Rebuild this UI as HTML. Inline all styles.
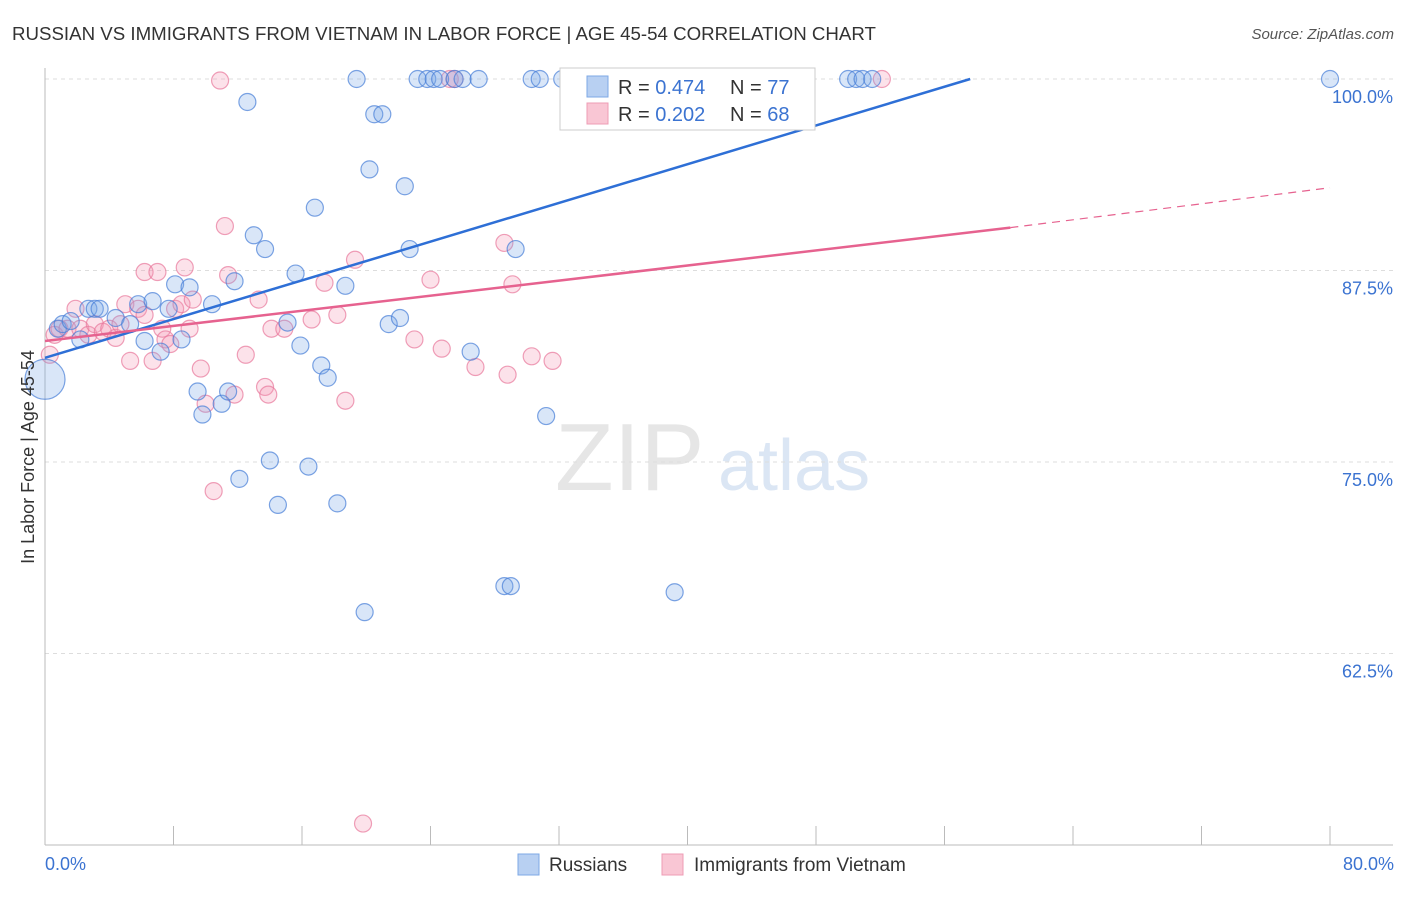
<!DOCTYPE html>
<html><head><meta charset="utf-8"><style>
body{margin:0;background:#fff;font-family:"Liberation Sans",sans-serif;}
svg text{font-family:"Liberation Sans",sans-serif;}
</style></head><body>
<svg id="chart" width="1406" height="892" xmlns="http://www.w3.org/2000/svg">
<text x="12" y="40" font-size="18.7" fill="#333">RUSSIAN VS IMMIGRANTS FROM VIETNAM IN LABOR FORCE | AGE 45-54 CORRELATION CHART</text>
<text x="1394" y="39" font-size="15" fill="#555" text-anchor="end" font-style="italic">Source: ZipAtlas.com</text>
<g opacity="0.35">
<text x="555" y="490" font-size="96" fill="#b8b8b8" font-family="Liberation Serif,serif">ZIP</text>
<text x="718" y="490" font-size="72" fill="#9bb9e0">atlas</text>
</g>
<g id="grid"></g>
<g id="axes"></g>
<g id="pts"></g>
<g id="trend"></g>
<text transform="translate(34,457) rotate(-90)" font-size="18" fill="#333" text-anchor="middle">In Labor Force | Age 45-54</text>
<text x="45" y="870" font-size="18" fill="#3b73d1">0.0%</text>
<text x="1394" y="870" font-size="18" fill="#3b73d1" text-anchor="end">80.0%</text>
<g>
<rect x="560" y="68" width="255" height="62" fill="#fff" stroke="#ccc"/>
<rect x="587" y="76" width="21" height="21" fill="#b8d0f2" stroke="#7ea8e6"/>
<rect x="587" y="103" width="21" height="21" fill="#f9c6d4" stroke="#ee9cb5"/>
<text x="618" y="94" font-size="20" fill="#333">R = <tspan fill="#3b73d1">0.474</tspan></text>
<text x="730" y="94" font-size="20" fill="#333">N = <tspan fill="#3b73d1">77</tspan></text>
<text x="618" y="121" font-size="20" fill="#333">R = <tspan fill="#3b73d1">0.202</tspan></text>
<text x="730" y="121" font-size="20" fill="#333">N = <tspan fill="#3b73d1">68</tspan></text>
</g>
<g>
<rect x="518" y="854" width="21" height="21" fill="#b8d0f2" stroke="#7ea8e6"/>
<text x="549" y="871" font-size="19" fill="#333">Russians</text>
<rect x="662" y="854" width="21" height="21" fill="#f9c6d4" stroke="#ee9cb5"/>
<text x="694" y="871" font-size="19" fill="#333">Immigrants from Vietnam</text>
</g>
</svg>
<script>
const yTicks=[100,87.5,75,62.5];
const yTickLabels=["100.0%","87.5%","75.0%","62.5%"];
const xTicks=[0,8,16,24,32,40,48,56,64,72,80];
const blueX=[0,0.8,1.1,1.6,2.2,2.7,3.1,3.4,4.4,5.3,5.8,6.2,6.7,7.2,7.7,8.1,8.5,9.0,9.5,9.8,10.4,11.0,11.4,11.8,12.1,12.6,13.0,13.7,14.0,14.5,15.1,15.6,15.9,16.4,16.8,17.2,17.6,18.2,18.7,19.4,19.9,20.2,20.5,21.0,21.4,22.1,22.4,22.7,23.2,23.8,24.2,24.6,25.5,26.0,26.5,27.0,28.6,29.0,29.3,30.3,30.8,31.2,32.2,33.0,39.2,50.0,50.5,50.9,51.5,80.0];
const blueY=[80.4,83.7,84.0,84.2,83.0,85.0,85.0,85.0,84.4,84.0,85.3,82.9,85.5,82.2,85.0,86.6,83.0,86.4,79.6,78.1,85.3,78.8,79.6,86.8,73.9,98.5,89.8,88.9,75.1,72.2,84.1,87.3,82.6,74.7,91.6,81.3,80.5,72.3,86.5,100,65.2,94.1,97.7,97.7,84.0,84.4,93.0,88.9,100,100,100,100,100,100,82.2,100,66.9,66.9,88.9,100,100,78.0,100,100,66.5,100,100,100,100,100];
const pinkX=[0.3,0.6,0.9,1.4,1.9,2.2,2.7,3.1,3.6,4.0,4.4,4.7,5.0,5.3,5.8,6.2,6.2,6.7,7.0,7.3,7.5,7.8,8.1,8.5,8.7,9.0,9.2,9.7,10.0,10.5,10.9,11.2,11.4,11.8,12.5,13.3,13.7,13.9,14.1,14.9,16.6,17.4,18.2,18.7,19.3,19.8,23.0,24.0,24.7,25.2,25.5,26.8,28.6,28.8,29.1,30.3,31.6,52.1];
const pinkY=[82.0,83.3,83.7,83.7,85.0,83.7,83.3,84.0,83.5,83.7,83.1,84.0,85.3,81.6,85.0,87.4,84.6,81.6,87.4,83.7,83.0,82.7,85.0,85.3,87.7,83.7,85.6,81.1,78.8,73.1,99.9,90.4,87.2,79.4,82.0,85.6,79.9,79.4,83.7,83.7,84.3,86.7,84.6,79.0,88.2,51.4,83.0,86.9,82.4,100,100,81.2,89.3,80.7,86.6,81.9,81.6,100];
const blueTrend=[[0,81.8],[57.6,100]];
const pinkTrend=[[0,82.9],[60.1,90.3]];
const pinkTrendExt=[[60.1,90.3],[80,92.9]];
const NS="http://www.w3.org/2000/svg";
const X=v=>45+v/80*1285;
const Y=v=>79+(100-v)*15.32;
function mk(tag,attrs,parent){const e=document.createElementNS(NS,tag);for(const k in attrs)e.setAttribute(k,attrs[k]);parent.appendChild(e);return e;}
const grid=document.getElementById('grid'),axes=document.getElementById('axes'),pts=document.getElementById('pts'),tr=document.getElementById('trend');
yTicks.forEach((t,i)=>{
 const l=mk('line',{x1:45,x2:1393,y1:Y(t),y2:Y(t),stroke:'#ddd','stroke-dasharray':'4,4'},grid);
 
 
 const tx=mk('text',{x:1393,y:Y(t)+24,'font-size':18,fill:'#3b73d1','text-anchor':'end'},grid);
 tx.textContent=yTickLabels[i];
 
 
});
const ax=mk('line',{x1:45,x2:45,y1:68,y2:845,stroke:'#bbb'},axes);


const bx=mk('line',{x1:45,x2:1393,y1:845,y2:845,stroke:'#bbb'},axes);


xTicks.forEach(t=>{
 const l=mk('line',{x1:X(t),x2:X(t),y1:826,y2:845,stroke:'#bbb'},axes);
 
 
});
function dots(xs,ys,fill,stroke,name){
 xs.forEach((x,i)=>{
  const r=(i===0&&name==='russian-point')?20:8.5;
  const c=mk('circle',{cx:X(x),cy:Y(ys[i]),r:r,fill:fill,stroke:stroke,'stroke-width':1.2},pts);
  
  
 });
}
dots(pinkX,pinkY,'rgba(244,150,178,0.28)','rgba(232,120,155,0.7)','vietnam-point');
dots(blueX,blueY,'rgba(120,165,230,0.28)','rgba(70,125,215,0.7)','russian-point');
function line(p,stroke,w,dash,name){
 const a={x1:X(p[0][0]),y1:Y(p[0][1]),x2:X(p[1][0]),y2:Y(p[1][1]),stroke:stroke,'stroke-width':w};
 if(dash)a['stroke-dasharray']=dash;
 const l=mk('line',a,tr);
 
 
}
line(blueTrend,'#2e6fd6',2.5,null,'russian-trendline');
line(pinkTrend,'#e6628f',2.5,null,'vietnam-trendline');
line(pinkTrendExt,'#e6628f',1.2,'8,6','vietnam-trendline-extension');
</script>
</body></html>
